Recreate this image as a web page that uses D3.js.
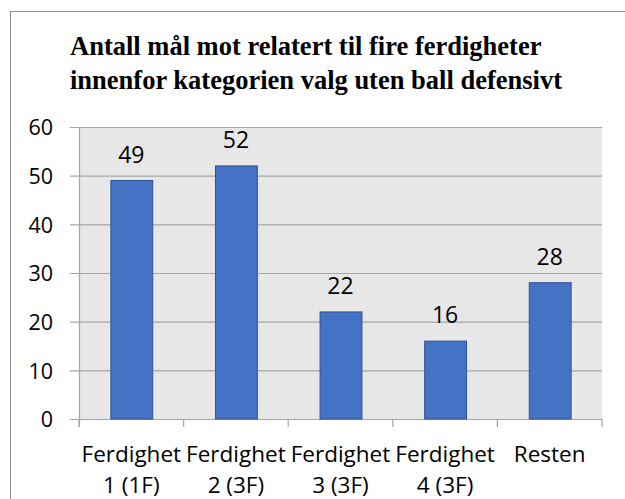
<!DOCTYPE html>
<html>
<head>
<meta charset="utf-8">
<script src="https://cdn.jsdelivr.net/npm/d3@7"></script>
<style>
  html, body { margin: 0; padding: 0; background: #fff; }
  svg { display: block; }
  .title { font-family: "Liberation Serif", "Times New Roman", Tinos, "DejaVu Serif", serif; font-weight: bold; }
  .sans { font-family: "Open Sans", sans-serif; }
</style>
</head>
<body>
<div id="chart"></div>
<script>
const titleLines = ["Antall mål mot relatert til fire ferdigheter", "innenfor kategorien valg uten ball defensivt"];
const categories = ["Ferdighet 1 (1F)", "Ferdighet 2 (3F)", "Ferdighet 3 (3F)", "Ferdighet 4 (3F)", "Resten"];
const categoryLines = [["Ferdighet", "1 (1F)"], ["Ferdighet", "2 (3F)"], ["Ferdighet", "3 (3F)"], ["Ferdighet", "4 (3F)"], ["Resten"]];
const values = [49, 52, 22, 16, 28];
const yTicks = [0, 10, 20, 30, 40, 50, 60];

const W = 625, H = 499;
const plot = { left: 79, right: 602, top: 127, bottom: 419 };

const svg = d3.select("#chart").append("svg").attr("width", W).attr("height", H);

// outer border (only left and top visible)
svg.append("rect").attr("x", 10.5).attr("y", 11.5).attr("width", 640).attr("height", 520)
  .attr("fill", "none").attr("stroke", "#8c8c8c").attr("stroke-width", 1);

// title
const title = svg.append("text").attr("class", "title").attr("font-size", 26.5).attr("fill", "#000");
titleLines.forEach((t, i) => {
  title.append("tspan").attr("x", 70).attr("y", 55 + i * 34).text(t);
});

const x = d3.scaleBand().domain(categories).range([plot.left, plot.right]).paddingInner(0.6).paddingOuter(0.3);
const xb = d3.scaleBand().domain(categories).range([plot.left, plot.right]);
const y = d3.scaleLinear().domain([0, 60]).range([plot.bottom, plot.top]);

// plot background
svg.append("rect").attr("x", plot.left).attr("y", plot.top)
  .attr("width", plot.right - plot.left).attr("height", plot.bottom - plot.top).attr("fill", "#e7e7e7");

// gridlines
const gy = svg.append("g").attr("transform", `translate(${plot.right},0)`);
gy.call(d3.axisLeft(y).tickValues(yTicks).tickSize(plot.right - 70).tickPadding(0).tickFormat(""));
gy.select(".domain").remove();
gy.selectAll(".tick line").attr("stroke", "#a6a6a6").attr("stroke-width", 1.2);

// y labels
const gl = svg.append("g").attr("transform", `translate(53,0)`);
gl.call(d3.axisLeft(y).tickValues(yTicks).tickSize(0).tickPadding(0));
gl.select(".domain").remove();
gl.selectAll(".tick text").attr("class", "sans").attr("font-size", 21.5)
  .attr("fill", "#000").attr("text-anchor", "end").attr("dy", "0.36em");

// vertical axis line
svg.append("line").attr("x1", plot.left + 0.5).attr("x2", plot.left + 0.5)
  .attr("y1", plot.top).attr("y2", plot.bottom + 8).attr("stroke", "#a6a6a6").attr("stroke-width", 1.2);

// x axis ticks at band edges
const edges = categories.map(c => xb(c)).concat([plot.right]);
svg.append("g").selectAll("line").data(edges).join("line")
  .attr("x1", d => d).attr("x2", d => d).attr("y1", plot.bottom).attr("y2", plot.bottom + 8)
  .attr("stroke", "#a6a6a6").attr("stroke-width", 1.2);

// bars
svg.append("g").selectAll("rect").data(values).join("rect")
  .attr("x", (d, i) => x(categories[i]) + 0.5)
  .attr("y", d => y(d))
  .attr("width", x.bandwidth())
  .attr("height", d => plot.bottom - y(d))
  .attr("fill", "#4472c4").attr("stroke", "#2f528f").attr("stroke-width", 1);

// data labels
svg.append("g").selectAll("text").data(values).join("text")
  .attr("class", "sans")
  .attr("x", (d, i) => xb(categories[i]) + xb.bandwidth() / 2)
  .attr("y", d => y(d) - 18)
  .attr("text-anchor", "middle").attr("font-size", 23)
  .attr("fill", "#000").text(d => d);

// category labels
const cl = svg.append("g").selectAll("text").data(categoryLines).join("text")
  .attr("class", "sans")
  .attr("text-anchor", "middle").attr("font-size", 22.5)
  .attr("fill", "#000");
cl.each(function (lines, i) {
  const cx = xb(categories[i]) + xb.bandwidth() / 2;
  d3.select(this).selectAll("tspan").data(lines).join("tspan")
    .attr("x", cx).attr("y", (d, j) => 462 + j * 31).text(d => d);
});
</script>
</body>
</html>
